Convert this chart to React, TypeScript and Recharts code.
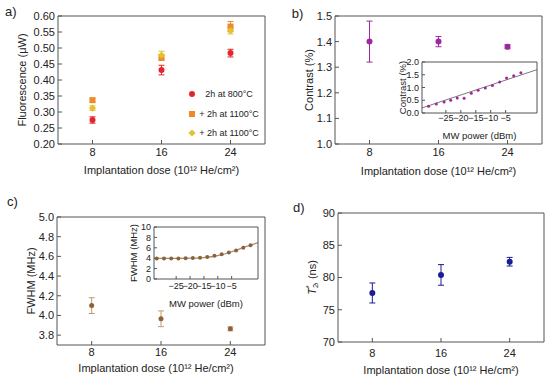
import React from 'react';
import { ScatterChart, ComposedChart, Scatter, Line, XAxis, YAxis, ErrorBar } from 'recharts';

// ---------- data ----------
const doses = [8, 16, 24];
const doseTicks = [8, 16, 24];

const fluor800 = [0.275, 0.431, 0.484];
const fluor800Err = [0.01, 0.015, 0.012];
const fluor1100A = [0.337, 0.47, 0.567];
const fluor1100AErr = [0.006, 0.009, 0.016];
const fluor1100B = [0.312, 0.478, 0.554];
const fluor1100BErr = [0.007, 0.012, 0.01];
const fluorTicks = [0.2, 0.25, 0.3, 0.35, 0.4, 0.45, 0.5, 0.55, 0.6];

const contrast = [1.4, 1.4, 1.38];
const contrastErr = [0.08, 0.02, 0.008];
const contrastTicks = [1.0, 1.1, 1.2, 1.3, 1.4, 1.5];

const fwhm = [4.1, 3.966, 3.864];
const fwhmErr = [0.08, 0.08, 0.02];
const fwhmTicks = [3.8, 4.0, 4.2, 4.4, 4.6, 4.8, 5.0];

const t2 = [77.6, 80.4, 82.45];
const t2Err = [1.55, 1.6, 0.67];
const t2Ticks = [70, 75, 80, 85, 90];

const powerTicks = [-25, -20, -15, -10, -5];
const contrastPower = [-30.8, -28.2, -25.6, -23.4, -21.2, -18.9, -16.5, -14.2, -11.8, -9.4, -7, -4.7, -2.3, 0.1];
const contrastVsPower = [0.26, 0.35, 0.43, 0.5, 0.59, 0.575, 0.77, 0.89, 0.98, 1.08, 1.22, 1.37, 1.46, 1.58];
const contrastFitPower = [-33, 5.5];
const contrastFit = [0.2, 1.7];
const insetContrastTicks = [0, 0.5, 1.0, 1.5, 2.0];

const fwhmPower = [-32, -29.4, -26.8, -24.2, -21.6, -19, -16.4, -13.8, -11.2, -8.6, -6, -3.4, -0.8, 1.8];
const fwhmVsPower = [3.95, 3.95, 3.95, 3.96, 3.98, 4.02, 4.1, 4.25, 4.45, 4.75, 5.1, 5.5, 6.0, 6.5];
const fwhmFitPower = [-33, -20, -15, -10, -5, 0, 4.5];
const fwhmFit = [3.95, 4.0, 4.12, 4.5, 5.25, 6.2, 7.0];
const insetFwhmTicks = [0, 2, 4, 6, 8, 10];

const legendLabels = ['2h at 800°C', '+ 2h at 1100°C', '+ 2h at 1100°C'];

// ---------- style ----------
const FONT = '"Liberation Sans", Arial, Helvetica, sans-serif';
const INK = '#222';
const FRAME = '#555';
const RED = '#e3262b';
const ORANGE = '#f0892a';
const YELLOW = '#e2c22e';
const PURPLE = '#a0289e';
const BROWN = '#8f6236';
const BROWN_BAR = '#c39a6c';
const BLUE = '#1c1c94';

const rows = (xs: number[], ys: number[], es?: number[]) =>
  xs.map((x, i) => ({ x, y: ys[i], e: es ? es[i] : 0 }));

const steps = (a: number, b: number, s: number) => {
  const out: number[] = [];
  for (let v = a; v <= b + 1e-9; v += s) out.push(+v.toFixed(4));
  return out;
};

// ---------- shapes ----------
const circleShape = (color: string, r = 3) => (p: any) =>
  <circle cx={p.cx} cy={p.cy} r={r} fill={color} />;
const squareShape = (color: string, s = 6) => (p: any) =>
  <rect x={p.cx - s / 2} y={p.cy - s / 2} width={s} height={s} fill={color} />;
const diamondShape = (color: string, d = 3.6) => (p: any) =>
  <polygon points={`${p.cx},${p.cy - d} ${p.cx + d},${p.cy} ${p.cx},${p.cy + d} ${p.cx - d},${p.cy}`} fill={color} />;
const noShape = () => <g />;

// ---------- labels ----------
function YLabel(props: any) {
  const { viewBox, dx, text, fs } = props;
  const x = viewBox.x + dx;
  const y = viewBox.y + viewBox.height / 2;
  return (
    <text transform={`translate(${x},${y}) rotate(-90)`} textAnchor="middle" dominantBaseline="central"
      fontSize={fs} fill={INK} fontFamily={FONT}>{text}</text>
  );
}
function T2Label(props: any) {
  const { viewBox, dx } = props;
  const x = viewBox.x + dx;
  const y = viewBox.y + viewBox.height / 2;
  return (
    <text transform={`translate(${x},${y}) rotate(-90)`} textAnchor="middle" dominantBaseline="central"
      fontSize={11} fill={INK} fontFamily={FONT}>
      <tspan fontStyle="italic">T</tspan>
      <tspan fontSize={7.5} dy={2.5}>2</tspan>
      <tspan fontSize={7.5} dx={-4.2} dy={-7}>*</tspan>
      <tspan dy={4.5}>, (ns)</tspan>
    </text>
  );
}
function XLabel(props: any) {
  const { viewBox, dy, text, fs, shift } = props;
  const x = viewBox.x + viewBox.width / 2 + (shift || 0);
  const y = viewBox.y + dy;
  return (
    <text x={x} y={y} textAnchor="middle" dominantBaseline="central" fontSize={fs} fill={INK} fontFamily={FONT}>{text}</text>
  );
}

// ---------- frame axes (left/bottom labelled, top/right mirrored ticks) ----------
type FrameOpts = {
  xDomain: number[]; yDomain: number[]; xTicks: number[]; yTicks: number[]; yMinor?: number[];
  yWidth: number; xHeight: number; fs: number; major: number; tmX: number; tmY: number;
  xFmt?: (v: number) => string; yFmt?: (v: number) => string; xLabel: any; yLabel: any; ghost: any[];
};
function frameAxes(o: FrameOpts) {
  const tickStyle = { fontSize: o.fs, fill: INK, fontFamily: FONT };
  const els: any[] = [
    <XAxis key="xb" xAxisId="b" orientation="bottom" type="number" dataKey="x" domain={o.xDomain} ticks={o.xTicks}
      allowDataOverflow height={o.xHeight} tickSize={-o.major} tickMargin={o.tmX} stroke={FRAME} tick={tickStyle}
      interval={0} tickFormatter={o.xFmt} label={o.xLabel} />,
    <YAxis key="yl" yAxisId="l" orientation="left" type="number" dataKey="y" domain={o.yDomain} ticks={o.yTicks}
      allowDataOverflow width={o.yWidth} tickSize={-o.major} tickMargin={o.tmY} stroke={FRAME} tick={tickStyle}
      interval={0} tickFormatter={o.yFmt} label={o.yLabel} />,
    <XAxis key="xt" xAxisId="t" orientation="top" type="number" dataKey="x" domain={o.xDomain} ticks={o.xTicks}
      allowDataOverflow height={1} tickSize={-o.major} stroke={FRAME} tick={false} interval={0} />,
    <YAxis key="yr" yAxisId="r" orientation="right" type="number" dataKey="y" domain={o.yDomain} ticks={o.yTicks}
      allowDataOverflow width={1} tickSize={-o.major} stroke={FRAME} tick={false} interval={0} />,
    <Scatter key="g1" xAxisId="t" yAxisId="r" data={o.ghost} shape={noShape} isAnimationActive={false} />,
  ];
  if (o.yMinor) {
    els.push(
      <YAxis key="ylm" yAxisId="lm" orientation="left" mirror type="number" dataKey="y" domain={o.yDomain} ticks={o.yMinor}
        allowDataOverflow width={1} tickSize={2} stroke={FRAME} axisLine={false} tick={false} interval={0} />,
      <YAxis key="yrm" yAxisId="rm" orientation="right" mirror type="number" dataKey="y" domain={o.yDomain} ticks={o.yMinor}
        allowDataOverflow width={1} tickSize={2} stroke={FRAME} axisLine={false} tick={false} interval={0} />,
      <Scatter key="g2" xAxisId="b" yAxisId="lm" data={o.ghost} shape={noShape} isAnimationActive={false} />,
      <Scatter key="g3" xAxisId="b" yAxisId="rm" data={o.ghost} shape={noShape} isAnimationActive={false} />,
    );
  }
  return els;
}

const XTITLE = 'Implantation dose (10¹² He/cm²)';
const fmt2 = (v: number) => v.toFixed(2);
const fmt1 = (v: number) => v.toFixed(1);
const fmt0 = (v: number) => String(v);
const fmtNeg = (v: number) => (v < 0 ? '\u2212' + Math.abs(v) : String(v));

const box = (left: number, top: number): React.CSSProperties => ({ position: 'absolute', left, top });

function PanelLetter({ x, y, t }: { x: number; y: number; t: string }) {
  return (
    <div style={{ position: 'absolute', left: x, top: y, fontSize: 13, lineHeight: '13px', fontFamily: FONT, color: INK }}>{t}</div>
  );
}

function LegendA() {
  const items = [
    { label: legendLabels[0], shape: <circle cx={6} cy={6} r={3} fill={RED} /> },
    { label: legendLabels[1], shape: <rect x={3} y={3} width={6} height={6} fill={ORANGE} /> },
    { label: legendLabels[2], shape: <polygon points="6,2.4 9.6,6 6,9.6 2.4,6" fill={YELLOW} /> },
  ];
  return (
    <div style={{ position: 'absolute', left: 186, top: 84.5, fontFamily: FONT, fontSize: 9, color: INK }}>
      {items.map((it, i) => (
        <div key={i} style={{ display: 'flex', alignItems: 'center', height: 19.5 }}>
          <svg width={12} height={12} style={{ display: 'block' }}>{it.shape}</svg>
          <span style={{ width: 60, marginLeft: 1, textAlign: 'center', whiteSpace: 'nowrap' }}>{it.label}</span>
        </div>
      ))}
    </div>
  );
}

export default function App() {
  const fluorA = rows(doses, fluor800, fluor800Err);
  const contrastRows = rows(doses, contrast, contrastErr);
  const fwhmRows = rows(doses, fwhm, fwhmErr);
  const t2Rows = rows(doses, t2, t2Err);
  const cPow = rows(contrastPower, contrastVsPower);
  const fPow = rows(fwhmPower, fwhmVsPower);
  return (
    <div style={{ position: 'absolute', left: 0, top: 0, width: 550, height: 376, background: '#fff', overflow: 'hidden' }}>
      {/* a) */}
      <div style={box(0, 0)}>
        <ScatterChart width={275} height={188} margin={{ top: 15, right: 9, bottom: 14, left: 8 }}>
          {frameAxes({
            xDomain: [4, 28], yDomain: [0.2, 0.6], xTicks: doseTicks, yTicks: fluorTicks, yMinor: steps(0.2, 0.6, 0.01),
            yWidth: 50, xHeight: 30, fs: 11, major: 4, tmX: 8, tmY: 7, yFmt: fmt2, ghost: fluorA,
            xLabel: <XLabel dy={26} text={XTITLE} fs={11} />,
            yLabel: <YLabel dx={14} text="Fluorescence (μW)" fs={11} />,
          })}
          <Scatter xAxisId="b" yAxisId="l" data={fluorA} shape={circleShape(RED)} isAnimationActive={false}>
            <ErrorBar dataKey="e" direction="y" width={3} stroke={RED} strokeWidth={1} />
          </Scatter>
          <Scatter xAxisId="b" yAxisId="l" data={rows(doses, fluor1100A, fluor1100AErr)} shape={squareShape(ORANGE)} isAnimationActive={false}>
            <ErrorBar dataKey="e" direction="y" width={3} stroke={ORANGE} strokeWidth={1} />
          </Scatter>
          <Scatter xAxisId="b" yAxisId="l" data={rows(doses, fluor1100B, fluor1100BErr)} shape={diamondShape(YELLOW)} isAnimationActive={false}>
            <ErrorBar dataKey="e" direction="y" width={3} stroke={YELLOW} strokeWidth={1} />
          </Scatter>
        </ScatterChart>
      </div>
      <LegendA />

      {/* b) */}
      <div style={box(275, 0)}>
        <ScatterChart width={275} height={188} margin={{ top: 15, right: 7, bottom: 14, left: 10 }}>
          {frameAxes({
            xDomain: [4, 28], yDomain: [1.0, 1.5], xTicks: doseTicks, yTicks: contrastTicks, yMinor: steps(1.0, 1.5, 0.02),
            yWidth: 50, xHeight: 30, fs: 11, major: 4, tmX: 8, tmY: 7, yFmt: fmt1, ghost: contrastRows,
            xLabel: <XLabel dy={27} text={XTITLE} fs={11} />,
            yLabel: <YLabel dx={24} text="Contrast (%)" fs={11} />,
          })}
          <Scatter xAxisId="b" yAxisId="l" data={contrastRows} shape={circleShape(PURPLE)} isAnimationActive={false}>
            <ErrorBar dataKey="e" direction="y" width={3} stroke={PURPLE} strokeWidth={1} />
          </Scatter>
        </ScatterChart>
      </div>
      {/* b) inset */}
      <div style={box(380, 50)}>
        <ComposedChart width={165} height={100} margin={{ top: 11, right: 7, bottom: 17, left: 12 }}>
          {frameAxes({
            xDomain: [-33, 5.5], yDomain: [0, 2], xTicks: powerTicks, yTicks: insetContrastTicks,
            yWidth: 30, xHeight: 20, fs: 9, major: 3, tmX: 5, tmY: 6, yFmt: fmt1, xFmt: fmtNeg, ghost: cPow,
            xLabel: <XLabel dy={22.7} text="MW power (dBm)" fs={9.5} />,
            yLabel: <YLabel dx={10.7} text="Contrast (%)" fs={9.5} />,
          })}
          <Line xAxisId="b" yAxisId="l" data={rows(contrastFitPower, contrastFit)} dataKey="y" type="linear" stroke="#7a7a7a"
            strokeWidth={1} dot={false} isAnimationActive={false} />
          <Scatter xAxisId="b" yAxisId="l" data={cPow} dataKey="y" shape={circleShape(PURPLE, 1.5)} isAnimationActive={false} />
        </ComposedChart>
      </div>

      {/* c) */}
      <div style={box(0, 188)}>
        <ScatterChart width={275} height={188} margin={{ top: 28, right: 9, bottom: 1, left: 7 }}>
          {frameAxes({
            xDomain: [4, 28], yDomain: [3.7, 5.0], xTicks: doseTicks, yTicks: fwhmTicks, yMinor: steps(3.7, 5.0, 0.05),
            yWidth: 50, xHeight: 30, fs: 11, major: 4, tmX: 7, tmY: 7, yFmt: fmt1, ghost: fwhmRows,
            xLabel: <XLabel dy={23} shift={-5} text={XTITLE} fs={11} />,
            yLabel: <YLabel dx={24} text="FWHM (MHz)" fs={11} />,
          })}
          <Scatter xAxisId="b" yAxisId="l" data={fwhmRows} shape={circleShape(BROWN, 2.5)} isAnimationActive={false}>
            <ErrorBar dataKey="e" direction="y" width={3} stroke={BROWN_BAR} strokeWidth={1} />
          </Scatter>
        </ScatterChart>
      </div>
      {/* c) inset */}
      <div style={box(110, 215)}>
        <ComposedChart width={160} height={100} margin={{ top: 11, right: 11, bottom: 16, left: 14 }}>
          {frameAxes({
            xDomain: [-33, 4.5], yDomain: [0, 10], xTicks: powerTicks, yTicks: insetFwhmTicks,
            yWidth: 30, xHeight: 20, fs: 9, major: 3, tmX: 7, tmY: 6, yFmt: fmt0, xFmt: fmtNeg, ghost: fPow,
            xLabel: <XLabel dy={24.7} text="MW power (dBm)" fs={9.5} />,
            yLabel: <YLabel dx={9} text="FWHM (MHz)" fs={9.5} />,
          })}
          <Line xAxisId="b" yAxisId="l" data={rows(fwhmFitPower, fwhmFit)} dataKey="y" type="monotone" stroke="#9a8c7e"
            strokeWidth={1.2} dot={false} isAnimationActive={false} />
          <Scatter xAxisId="b" yAxisId="l" data={fPow} dataKey="y" shape={circleShape(BROWN, 2)} isAnimationActive={false} />
        </ComposedChart>
      </div>

      {/* d) */}
      <div style={box(275, 188)}>
        <ScatterChart width={275} height={188} margin={{ top: 24, right: 5, bottom: 4, left: 13 }}>
          {frameAxes({
            xDomain: [4, 28], yDomain: [70, 90], xTicks: doseTicks, yTicks: t2Ticks, yMinor: steps(70, 90, 1),
            yWidth: 50, xHeight: 30, fs: 11, major: 4, tmX: 11, tmY: 7, yFmt: fmt0, ghost: t2Rows,
            xLabel: <XLabel dy={28} text={XTITLE} fs={11} />,
            yLabel: <T2Label dx={24} />,
          })}
          <Scatter xAxisId="b" yAxisId="l" data={t2Rows} shape={circleShape(BLUE, 3)} isAnimationActive={false}>
            <ErrorBar dataKey="e" direction="y" width={3} stroke={BLUE} strokeWidth={1} />
          </Scatter>
        </ScatterChart>
      </div>

      <PanelLetter x={5} y={4.5} t="a)" />
      <PanelLetter x={291.7} y={7.3} t="b)" />
      <PanelLetter x={7} y={195.3} t="c)" />
      <PanelLetter x={293} y={200.5} t="d)" />
    </div>
  );
}
